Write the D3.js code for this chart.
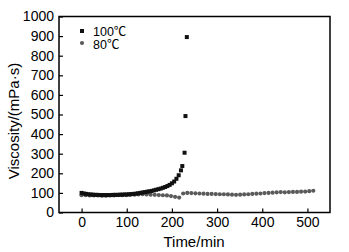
<!DOCTYPE html>
<html><head><meta charset="utf-8">
<script src="https://cdn.jsdelivr.net/npm/d3@7"></script>
<style>body{margin:0;background:#fff}svg{display:block}</style>
</head><body><svg id="c" width="349" height="252"></svg>
<script>
const xTicks = [0, 100, 200, 300, 400, 500];
const yTicks = [0, 100, 200, 300, 400, 500, 600, 700, 800, 900, 1000];
const seriesNames = ["100℃", "80℃"];
const t100 = [0,5,10,15,20,25,30,35,40,45,50,55,60,65,70,75,80,85,90,95,100,105,110,115,120,125,130,135,140,145,150,155,160,165,170,175,180,185,190,195,200,205,210,215,220,223,228,230,233];
const v100 = [100,97,95,93,92,91,90,90,89,89,89,89,89,89,90,90,90,91,91,92,92,93,94,95,96,98,100,102,104,106,108,110,113,116,119,122,126,130,135,141,149,158,172,190,215,237,305,492,895];
const t80 = [0,9,18,27,36,45,54,63,72,81,90,99,108,117,126,135,144,153,162,171,180,189,198,207,216,225,234,243,252,261,270,279,288,297,306,315,324,333,342,351,360,369,378,387,396,405,414,423,432,441,450,459,468,477,486,495,504,513];
const v80 = [88,88,87,87,87,86,86,87,87,88,88,89,90,91,92,93,92,91,90,89,88,87,84,80,76,97,100,99,98,97,96,95,95,94,93,93,92,91,90,91,92,93,95,96,97,99,100,101,103,104,103,104,105,105,106,107,109,111];

const FONT = "Liberation Sans, Arial, Noto Sans CJK SC, sans-serif";
const svg = d3.select("#c");
const L = 59, R = 330, T = 16.5, B = 212.5;
const x = d3.scaleLinear().domain([-50, 550]).range([L, R]);
const y = d3.scaleLinear().domain([0, 1000]).range([B, T]);

const gx = svg.append("g").attr("transform", `translate(0,${B})`)
  .call(d3.axisBottom(x).tickValues(xTicks).tickFormat(d3.format("d")).tickSizeInner(-4).tickSizeOuter(0).tickPadding(5));
const gy = svg.append("g").attr("transform", `translate(${L},0)`)
  .call(d3.axisLeft(y).tickValues(yTicks).tickFormat(d3.format("d")).tickSizeInner(-4).tickSizeOuter(0).tickPadding(5));
[gx, gy].forEach(g => {
  g.attr("font-family", FONT).attr("font-size", 14);
  g.select(".domain").remove();
  g.selectAll("line").attr("stroke", "#000").attr("stroke-width", 1.2);
  g.selectAll("text").attr("fill", "#000");
});

svg.append("rect").attr("x", L).attr("y", T).attr("width", R - L).attr("height", B - T)
  .attr("fill", "none").attr("stroke", "#000").attr("stroke-width", 1.5);

svg.append("g").selectAll("circle").data(t80.map((t, i) => [t, v80[i]])).join("circle")
  .attr("cx", d => x(d[0])).attr("cy", d => y(d[1])).attr("r", 2.1).attr("fill", "#5a5a5a");
svg.append("g").selectAll("rect").data(t100.map((t, i) => [t, v100[i]])).join("rect")
  .attr("x", d => x(d[0]) - 2).attr("y", d => y(d[1]) - 2).attr("width", 4).attr("height", 4).attr("fill", "#111");

const leg = svg.append("g").attr("font-family", FONT).attr("font-size", 12.5);
leg.append("rect").attr("x", 80).attr("y", 29).attr("width", 4).attr("height", 4).attr("fill", "#111");
leg.append("circle").attr("cx", 82).attr("cy", 43).attr("r", 2.1).attr("fill", "#5a5a5a");
leg.append("text").attr("x", 93).attr("y", 35.5).text(seriesNames[0]);
leg.append("text").attr("x", 93).attr("y", 48.5).text(seriesNames[1]);

svg.append("text").attr("x", 194).attr("y", 247).attr("text-anchor", "middle")
  .attr("font-family", FONT).attr("font-size", 15).text("Time/min");
svg.append("text").attr("transform", "translate(19,121) rotate(-90)").attr("text-anchor", "middle")
  .attr("font-family", FONT).attr("font-size", 15).text("Viscosity/(mPa·s)");
</script></body></html>
